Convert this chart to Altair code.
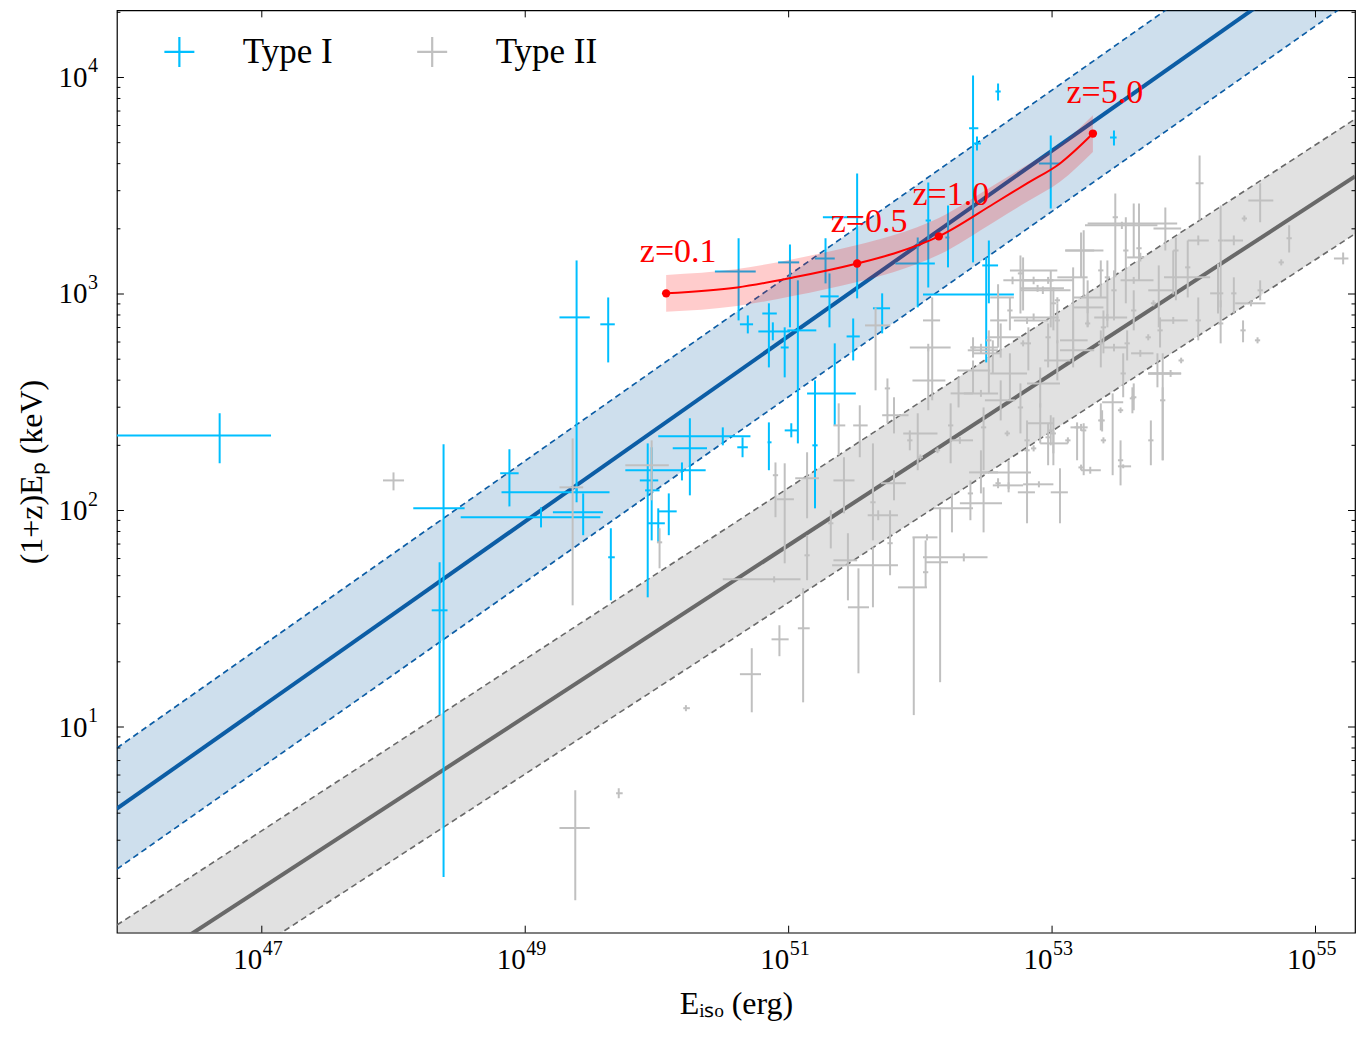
import numpy as np
import pandas as pd
import altair as alt

FONT = "Liberation Serif"

# axis ranges, in log10 units
x_min, x_max = 45.9, 55.3
y_min, y_max = 0.05, 4.31
x_major = [47, 49, 51, 53, 55]
y_major = [1, 2, 3, 4]

# Type I bursts: log10 Eiso, its range, log10 (1+z)Ep, its range
t1_lgE = [46.68, 48.38, 48.35, 48.88, 49.39, 49.12, 49.39, 49.44, 49.63, 49.65,
          50.25, 50.50, 50.65, 50.85, 50.19, 49.93, 49.96, 50.01, 50.09, 50.69,
          50.62, 51.01, 50.85, 50.88, 51.07, 50.97, 51.28, 51.31, 51.52, 51.71,
          51.49, 51.35, 52.06, 51.98, 52.21, 52.40, 52.43, 52.59, 52.52, 52.50,
          52.99, 53.47, 51.02, 51.20]
t1_lgE_lo = [45.70, 48.15, 48.29, 48.81, 49.26, 48.51, 48.82, 49.21, 49.57, 49.63,
             50.12, 50.01, 50.61, 50.84, 49.76, 49.87, 49.91, 49.93, 50.01, 50.63,
             50.44, 50.92, 50.80, 50.77, 50.99, 50.94, 51.20, 51.24, 51.26, 51.64,
             51.44, 51.14, 52.04, 51.81, 52.19, 52.37, 52.40, 52.57, 52.47, 52.02,
             52.90, 53.44, 50.97, 51.18]
t1_lgE_hi = [47.07, 48.54, 48.41, 48.95, 49.49, 49.57, 49.64, 49.59, 49.68, 49.68,
             50.38, 50.71, 50.69, 50.87, 50.37, 50.01, 50.02, 50.06, 50.15, 50.73,
             50.75, 51.08, 50.91, 51.01, 51.21, 51.00, 51.35, 51.38, 51.56, 51.77,
             51.54, 51.51, 52.08, 52.11, 52.22, 52.44, 52.46, 52.61, 52.59, 52.71,
             53.06, 53.49, 51.07, 51.22]
t1_lgEp = [2.347, 2.010, 1.539, 2.172, 2.892, 1.969, 2.084, 1.992, 2.860, 1.784,
           2.287, 2.343, 2.292, 2.315, 2.186, 2.139, 2.093, 1.941, 1.996, 2.860,
           3.104, 3.146, 2.910, 2.827, 2.832, 2.753, 3.164, 2.989, 3.354, 2.934,
           2.804, 2.541, 3.340, 3.141, 3.261, 3.765, 3.695, 3.935, 3.132, 2.998,
           3.603, 3.723, 2.370, 2.301]
t1_lgEp_lo = [2.218, 0.307, 1.055, 2.019, 2.079, 1.922, 2.038, 1.886, 2.684, 1.585,
              2.070, 2.301, 2.246, 2.186, 2.139, 1.599, 1.862, 1.853, 1.886, 2.818,
              2.878, 2.846, 2.661, 2.786, 2.310, 2.615, 3.049, 2.846, 2.980, 2.818,
              2.693, 2.393, 3.030, 2.938, 3.123, 3.146, 3.663, 3.894, 2.957, 2.684,
              3.395, 3.686, 2.338, 2.010]
t1_lgEp_hi = [2.449, 2.306, 1.761, 2.283, 3.155, 2.015, 2.107, 2.079, 2.984, 1.918,
              2.426, 2.384, 2.338, 2.407, 2.222, 2.310, 2.292, 2.010, 2.079, 2.901,
              3.257, 3.229, 2.957, 2.869, 3.063, 2.846, 3.257, 3.095, 3.557, 3.003,
              2.887, 2.772, 3.515, 3.261, 3.409, 4.009, 3.728, 3.972, 3.247, 3.169,
              3.732, 3.755, 2.403, 2.601]

# Type II bursts
t2_lgE = [48.00, 49.36, 49.38, 49.71, 50.22, 49.96, 50.02, 50.72, 50.93, 51.11,
          50.89, 50.97, 50.90, 51.14, 51.14, 51.38, 51.42, 51.32, 51.45, 51.53,
          51.64, 51.64, 51.68, 51.77, 51.95, 52.15, 52.33, 52.04, 52.05, 52.24,
          52.81, 52.67, 52.46, 53.12, 52.86, 52.99, 54.12, 54.58, 55.21, 54.80,
          54.74, 54.45, 54.56, 54.28, 54.38, 54.46, 54.51, 54.58, 54.26, 54.38,
          54.28, 54.11, 54.03, 54.11, 53.86, 53.62, 53.48, 53.24, 53.56, 53.67,
          53.94, 53.92, 53.81, 53.42, 53.16, 52.99, 52.86, 52.76, 52.70, 52.93,
          53.01, 52.86, 52.82, 52.59, 52.52, 52.46, 52.09, 52.06, 52.06, 51.66,
          51.75, 51.54, 51.80, 51.98, 52.23, 52.29, 52.46, 52.40, 52.55, 52.68,
          52.76, 52.91, 53.04, 53.16, 53.27, 53.39, 53.47, 53.54, 53.67, 53.80,
          53.82, 53.92, 53.98, 53.84, 53.90, 53.62, 53.52, 53.39, 53.37, 53.22,
          53.01, 52.91, 52.81, 52.66, 52.48, 52.30, 52.13, 52.00, 51.92, 51.80,
          52.61, 53.29, 53.52, 53.75, 53.22, 53.06, 52.90, 52.59, 52.67, 52.48,
          52.38, 53.54, 53.46, 53.38, 53.61, 53.84, 53.19, 53.24, 53.01, 52.97,
          52.81, 53.22, 53.53, 53.66, 52.78, 52.97, 53.37, 52.89, 53.27, 53.47,
          53.62, 52.68, 52.81, 53.04, 53.42, 53.62, 52.61, 52.97, 53.16, 53.37,
          52.46, 52.59, 52.40, 53.27, 53.73, 53.77, 53.57, 53.04, 52.78]
t2_lgE_lo = [47.92, 49.26, 49.26, 49.69, 50.20, 49.76, 50.00, 50.63, 50.87, 51.07,
             50.50, 50.91, 50.88, 51.05, 51.12, 51.34, 51.34, 51.30, 51.34, 51.45,
             51.33, 51.62, 51.60, 51.75, 51.83, 52.04, 52.02, 52.02, 51.94, 52.10,
             52.74, 52.55, 52.37, 53.10, 52.84, 52.97, 54.09, 54.49, 55.14, 54.78,
             54.72, 54.43, 54.54, 54.26, 54.30, 54.44, 54.39, 54.56, 54.20, 54.36,
             54.26, 54.09, 54.01, 54.03, 53.77, 53.27, 53.46, 53.10, 53.54, 53.57,
             53.92, 53.85, 53.73, 53.40, 53.04, 52.97, 52.78, 52.74, 52.63, 52.76,
             52.99, 52.68, 52.80, 52.53, 52.50, 52.38, 52.02, 51.94, 51.92, 51.58,
             51.73, 51.49, 51.71, 51.87, 52.21, 52.23, 52.33, 52.28, 52.40, 52.53,
             52.74, 52.81, 52.94, 53.06, 53.16, 53.37, 53.39, 53.52, 53.60, 53.73,
             53.80, 53.82, 53.96, 53.82, 53.73, 53.60, 53.50, 53.37, 53.35, 53.14,
             52.99, 52.81, 52.79, 52.64, 52.46, 52.23, 52.11, 51.98, 51.90, 51.70,
             52.49, 53.22, 53.50, 53.73, 53.20, 52.99, 52.78, 52.57, 52.46, 52.30,
             52.36, 53.50, 53.38, 53.36, 53.59, 53.73, 53.17, 53.22, 52.91, 52.95,
             52.79, 53.10, 53.25, 53.64, 52.68, 52.76, 53.35, 52.76, 53.16, 53.45,
             53.52, 52.66, 52.71, 53.02, 53.32, 53.60, 52.51, 52.95, 53.06, 53.35,
             52.36, 52.53, 52.38, 53.25, 53.71, 53.75, 53.55, 53.02, 52.76]
t2_lgE_hi = [48.08, 49.44, 49.49, 49.74, 50.25, 50.09, 50.04, 50.79, 51.00, 51.16,
             51.09, 51.04, 50.92, 51.23, 51.16, 51.43, 51.50, 51.34, 51.52, 51.61,
             51.83, 51.66, 51.83, 51.79, 52.05, 52.21, 52.51, 52.06, 52.13, 52.40,
             52.87, 52.78, 52.59, 53.14, 52.88, 53.01, 54.15, 54.68, 55.25, 54.82,
             54.76, 54.47, 54.58, 54.30, 54.45, 54.48, 54.62, 54.60, 54.30, 54.40,
             54.30, 54.13, 54.05, 54.19, 53.98, 53.95, 53.50, 53.39, 53.58, 53.70,
             53.96, 54.20, 53.92, 53.44, 53.27, 53.01, 53.01, 52.78, 52.90, 53.14,
             53.03, 53.05, 52.84, 52.66, 52.54, 52.59, 52.15, 52.19, 52.23, 51.77,
             51.77, 51.60, 51.91, 52.13, 52.25, 52.40, 52.59, 52.53, 52.61, 52.81,
             52.78, 53.06, 53.14, 53.27, 53.39, 53.41, 53.57, 53.56, 53.77, 53.92,
             53.84, 54.03, 54.00, 53.86, 53.98, 53.64, 53.54, 53.41, 53.39, 53.27,
             53.03, 53.01, 52.83, 52.68, 52.50, 52.40, 52.15, 52.02, 51.94, 51.89,
             52.72, 53.37, 53.54, 53.77, 53.24, 53.12, 53.01, 52.61, 52.84, 52.62,
             52.40, 53.60, 53.54, 53.40, 53.63, 53.98, 53.21, 53.26, 53.12, 52.99,
             52.83, 53.32, 53.80, 53.68, 53.04, 53.16, 53.39, 53.09, 53.42, 53.49,
             53.77, 52.70, 52.97, 53.06, 53.57, 53.64, 52.76, 52.99, 53.32, 53.39,
             52.59, 52.71, 52.42, 53.29, 53.75, 53.79, 53.59, 53.06, 52.80]
t2_lgEp = [2.139, 2.107, 0.533, 0.694, 1.087, 2.209, 1.853, 1.244, 1.405, 1.456,
           1.682, 2.052, 2.163, 2.149, 1.793, 2.393, 2.139, 1.941, 1.770, 1.553,
           1.747, 2.038, 1.978, 1.849, 1.645, 1.761, 1.784, 1.715, 1.876, 2.010,
           2.084, 2.116, 2.176, 2.324, 2.287, 2.370, 3.511, 3.432, 3.164, 3.257,
           3.146, 2.832, 2.786, 3.247, 3.247, 3.349, 2.957, 3.017, 3.003, 3.003,
           2.864, 2.878, 3.123, 3.247, 3.303, 3.326, 3.354, 3.201, 3.201, 3.169,
           3.201, 3.077, 3.017, 3.077, 3.077, 3.063, 3.063, 3.095, 3.063, 3.017,
           2.957, 2.892, 2.772, 2.878, 2.786, 2.753, 2.878, 2.601, 2.753, 2.855,
           2.564, 2.393, 2.440, 2.356, 2.393, 2.541, 2.541, 2.647, 2.726, 2.633,
           2.476, 2.587, 2.693, 2.786, 2.938, 2.846, 2.753, 2.633, 2.726, 2.633,
           2.832, 2.878, 2.693, 2.509, 2.633, 2.523, 2.463, 2.324, 2.416, 2.384,
           2.356, 2.403, 2.324, 2.356, 2.384, 2.324, 2.278, 2.246, 2.324, 2.126,
           2.509, 2.186, 2.232, 2.324, 2.199, 2.084, 2.121, 2.126, 2.176, 2.033,
           2.079, 2.204, 2.500, 2.416, 2.518, 2.633, 2.384, 2.370, 2.310, 2.338,
           2.278, 3.201, 3.317, 3.211, 3.109, 3.063, 3.109, 3.026, 2.984, 3.017,
           3.063, 2.924, 2.878, 2.878, 2.892, 2.924, 2.800, 2.800, 2.740, 2.772,
           2.740, 2.984, 2.753, 2.864, 2.800, 2.957, 2.772, 2.971, 2.772]
t2_lgEp_lo = [2.093, 1.562, 0.200, 0.671, 1.073, 2.047, 1.733, 1.068, 1.327, 1.114,
              1.668, 1.756, 1.969, 1.964, 1.678, 2.255, 1.987, 1.825, 1.585, 1.248,
              1.553, 1.862, 1.955, 1.701, 1.055, 1.207, 1.765, 1.645, 1.862, 1.899,
              1.941, 2.100, 2.079, 2.310, 2.273, 2.301, 3.340, 3.331, 3.137, 3.192,
              3.132, 2.777, 2.772, 2.938, 3.225, 3.335, 2.943, 2.971, 2.910, 2.910,
              2.772, 2.786, 2.984, 3.225, 3.201, 3.169, 3.077, 2.984, 2.957, 3.150,
              2.971, 2.998, 2.846, 2.846, 2.740, 2.846, 3.045, 2.910, 3.045, 3.000,
              2.832, 2.875, 2.647, 2.753, 2.541, 2.735, 2.509, 2.463, 2.735, 2.555,
              2.403, 2.246, 2.356, 2.186, 2.218, 2.476, 2.525, 2.541, 2.633, 2.509,
              2.356, 2.476, 2.601, 2.661, 2.846, 2.726, 2.735, 2.523, 2.710, 2.569,
              2.753, 2.862, 2.680, 2.232, 2.617, 2.463, 2.450, 2.310, 2.370, 2.368,
              2.264, 2.310, 2.232, 2.343, 2.186, 2.308, 2.265, 2.233, 2.278, 2.047,
              2.416, 2.170, 2.116, 2.209, 2.186, 1.941, 2.107, 2.103, 2.084, 1.899,
              1.955, 2.195, 2.163, 2.365, 2.449, 2.232, 2.232, 2.163, 2.209, 2.209,
              2.107, 3.077, 3.300, 3.063, 2.924, 3.047, 2.984, 3.010, 2.911, 2.878,
              3.047, 2.832, 2.862, 2.772, 2.876, 2.832, 2.706, 2.661, 2.724, 2.661,
              2.724, 2.924, 2.706, 2.850, 2.786, 2.943, 2.693, 2.957, 2.758]
t2_lgEp_hi = [2.176, 2.333, 0.708, 0.717, 1.101, 2.324, 1.918, 1.364, 1.470, 1.641,
              1.696, 2.218, 2.222, 2.269, 1.885, 2.495, 2.246, 2.001, 1.895, 1.733,
              1.830, 2.310, 2.001, 2.001, 1.876, 2.015, 1.802, 1.862, 1.890, 2.079,
              2.176, 2.130, 2.278, 2.338, 2.301, 2.440, 3.640, 3.511, 3.192, 3.317,
              3.160, 2.878, 2.800, 3.409, 3.270, 3.363, 2.971, 3.063, 3.141, 3.077,
              2.971, 2.984, 3.247, 3.270, 3.400, 3.418, 3.464, 3.294, 3.354, 3.190,
              3.261, 3.201, 3.132, 3.155, 3.123, 3.109, 3.080, 3.178, 3.080, 3.035,
              3.030, 2.910, 2.846, 2.971, 2.832, 2.770, 2.984, 2.753, 2.770, 2.938,
              2.610, 2.486, 2.523, 2.449, 2.495, 2.615, 2.557, 2.693, 2.786, 2.726,
              2.587, 2.661, 2.786, 2.878, 3.003, 2.924, 2.770, 2.726, 2.742, 2.726,
              2.892, 2.894, 2.706, 2.569, 2.649, 2.587, 2.476, 2.338, 2.495, 2.400,
              2.430, 2.495, 2.416, 2.369, 2.476, 2.340, 2.291, 2.259, 2.370, 2.186,
              2.601, 2.202, 2.324, 2.416, 2.212, 2.195, 2.135, 2.149, 2.232, 2.107,
              2.139, 2.213, 2.541, 2.463, 2.569, 2.726, 2.407, 2.403, 2.370, 2.403,
              2.324, 3.284, 3.334, 3.418, 3.169, 3.079, 3.155, 3.042, 3.063, 3.109,
              3.079, 2.984, 2.894, 2.957, 2.908, 3.017, 2.864, 2.864, 2.756, 2.832,
              2.756, 3.045, 2.800, 2.878, 2.814, 2.971, 2.832, 2.985, 2.786]

# best-fit relations: log Ep = a + b (log Eiso - 52), scatter sigma
fit_pivot = 52.0
typeI_fit = [3.234, 0.428, 0.28]
typeII_fit = [2.236, 0.396, 0.265]

# redshift track of one burst
track_lgE = [50.07, 50.61, 51.04, 51.52, 51.80, 52.14, 52.56, 52.81, 53.06, 53.31]
track_lgEp = [3.003, 3.030, 3.077, 3.141, 3.187, 3.266, 3.418, 3.511, 3.603, 3.741]
track_width = 0.085
z_labels = ["z=0.1", "z=0.5", "z=1.0", "z=5.0"]
z_index = [0, 3, 5, 9]

W, H = 1239, 923

xs = alt.Scale(domain=[x_min, x_max], nice=False, zero=False)
ys = alt.Scale(domain=[y_min, y_max], nice=False, zero=False)
# "10" from the axis, the exponent is a small text layer next to it
xaxis = alt.Axis(values=x_major, labelExpr="'10'", labelAlign="right", title="Eᵢₛₒ (erg)",
                 labelPadding=13, titlePadding=14)
yaxis = alt.Axis(values=y_major, labelExpr="'10'", title="(1+z)Eₚ (keV)",
                 labelPadding=30, titlePadding=9)


def X(f):
    return alt.X(f, type="quantitative", scale=xs, axis=xaxis)


def Y(f):
    return alt.Y(f, type="quantitative", scale=ys, axis=yaxis)


def fit_frame(fit):
    a, b, s = fit
    xx = np.array([x_min, x_max])
    yy = a + b * (xx - fit_pivot)
    return pd.DataFrame({"x": xx, "y": yy, "lo": yy - s, "hi": yy + s})


layers = []
for fit, col in [(typeI_fit, "#0C5DA5"), (typeII_fit, "#696969")]:
    d = fit_frame(fit)
    base = alt.Chart(d)
    layers.append(base.mark_area(color=col, opacity=0.2, clip=True)
                  .encode(x=X("x"), y=Y("lo"), y2="hi"))
    for f in ["lo", "hi"]:
        layers.append(base.mark_line(color=col, strokeWidth=1.6, strokeDash=[6, 4], clip=True)
                      .encode(x=X("x"), y=Y(f)))
    layers.append(base.mark_line(color=col, strokeWidth=4, clip=True)
                  .encode(x=X("x"), y=Y("y")))

t1 = pd.DataFrame({"x": t1_lgE, "xlo": t1_lgE_lo, "xhi": t1_lgE_hi,
                   "y": t1_lgEp, "ylo": t1_lgEp_lo, "yhi": t1_lgEp_hi, "type": "Type I"})
t2 = pd.DataFrame({"x": t2_lgE, "xlo": t2_lgE_lo, "xhi": t2_lgE_hi,
                   "y": t2_lgEp, "ylo": t2_lgEp_lo, "yhi": t2_lgEp_hi, "type": "Type II"})

color = alt.Color("type:N",
                  scale=alt.Scale(domain=["Type I", "Type II"], range=["#00BFFF", "#C0C0C0"]),
                  legend=alt.Legend(orient="none", legendX=45, legendY=24, direction="horizontal",
                                    title=None, symbolType="M-1,0H1M0,-1V1", symbolSize=900,
                                    symbolStrokeWidth=2.2, labelFont=FONT, labelFontSize=35,
                                    labelColor="black", labelOffset=46, columnPadding=80,
                                    padding=0))

for d in [t1, t2]:
    base = alt.Chart(d)
    layers.append(base.mark_rule(strokeWidth=2, clip=True)
                  .encode(x=X("xlo"), x2="xhi", y=Y("y"), color=color))
    layers.append(base.mark_rule(strokeWidth=2, clip=True)
                  .encode(x=X("x"), y=Y("ylo"), y2="yhi", color=color))

tr = pd.DataFrame({"x": track_lgE, "y": track_lgEp})
tr["lo"] = tr["y"] - track_width
tr["hi"] = tr["y"] + track_width
dots = tr.iloc[z_index].copy()
dots["label"] = z_labels
layers.append(alt.Chart(tr).mark_area(color="red", opacity=0.2, interpolate="monotone")
              .encode(x=X("x"), y=Y("lo"), y2="hi"))
layers.append(alt.Chart(tr).mark_line(color="red", strokeWidth=2, interpolate="monotone")
              .encode(x=X("x"), y=Y("y")))
layers.append(alt.Chart(dots).mark_circle(color="red", size=70, opacity=1)
              .encode(x=X("x"), y=Y("y")))
layers.append(alt.Chart(dots).mark_text(color="red", font=FONT, fontSize=34, dx=12, dy=-41,
                                        align="center", baseline="middle")
              .encode(x=X("x"), y=Y("y"), text="label:N"))

# inward ticks on all four sides
y_minor = [float(np.log10(k * 10.0 ** n)) for n in range(0, 5) for k in range(2, 10)]
y_minor = [v for v in y_minor if y_min < v < y_max]
xt = pd.DataFrame({"v": x_major, "e": [str(v) for v in x_major]})
yt_major = pd.DataFrame({"v": y_major, "e": [str(v) for v in y_major]})
for y0, y1 in [(H, H - 7), (0, 7)]:
    layers.append(alt.Chart(xt).mark_rule(color="black", strokeWidth=1)
                  .encode(x=X("v"), y=alt.value(y0), y2=alt.value(y1)))
for vals, ln in [(y_major, 7), (y_minor, 3.5)]:
    yt = pd.DataFrame({"v": vals})
    for x0, x1 in [(0, ln), (W, W - ln)]:
        layers.append(alt.Chart(yt).mark_rule(color="black", strokeWidth=1)
                      .encode(y=Y("v"), x=alt.value(x0), x2=alt.value(x1)))

# exponents of the tick labels
layers.append(alt.Chart(xt).mark_text(font=FONT, fontSize=20, align="left", baseline="top",
                                      color="black", dx=1)
              .encode(x=X("v"), y=alt.value(H + 6), text="e:N"))
layers.append(alt.Chart(yt_major).mark_text(font=FONT, fontSize=20, align="left",
                                            baseline="middle", color="black", dy=-11)
              .encode(y=Y("v"), x=alt.value(-29), text="e:N"))

chart = (
    alt.layer(*layers)
    .properties(width=W, height=H,
                padding={"left": 109, "top": 2, "right": 4, "bottom": 100},
                autosize=alt.AutoSizeParams(type="none"))
    .configure_axis(labelFont=FONT, titleFont=FONT, labelFontSize=29, titleFontSize=32,
                    titleFontWeight="normal", labelColor="black", titleColor="black",
                    domain=False, ticks=False, grid=False)
    .configure_view(stroke="black", strokeWidth=1.2)
)

chart.save("out.html", embed_options={"renderer": "svg", "actions": False})
